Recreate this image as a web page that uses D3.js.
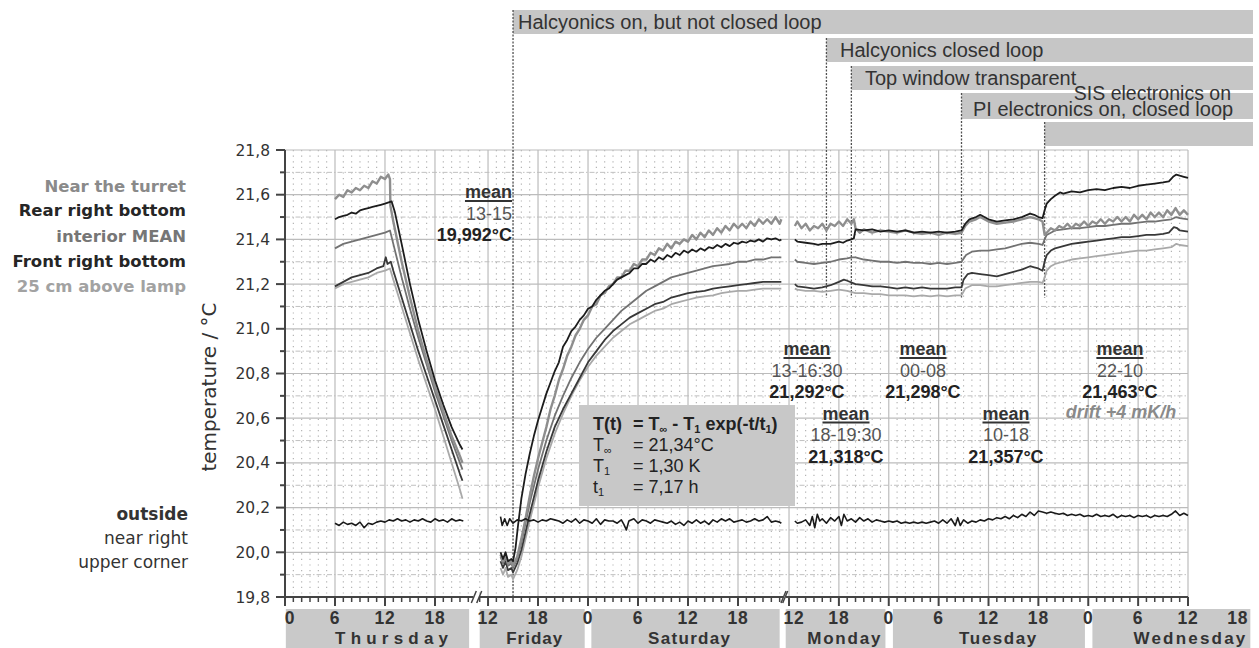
<!DOCTYPE html>
<html><head><meta charset="utf-8">
<script src="https://cdn.jsdelivr.net/npm/d3@7"></script>
<style>body{margin:0;background:#fff}svg{display:block}</style>
</head><body>
<svg id="c" width="1259" height="648"></svg>
<script>
// ---------------- DATA ----------------
// hours counted from Thursday 00:00 (Fri=24, Sat=48, Mon=96, Tue=120, Wed=144)
const seriesNames = ["25 cm above lamp","Front right bottom","interior MEAN","Near the turret","Rear right bottom"];
const yTickValues = [19.8,20.0,20.2,20.4,20.6,20.8,21.0,21.2,21.4,21.6,21.8];
const yTickLabels = ["19,8","20,0","20,2","20,4","20,6","20,8","21,0","21,2","21,4","21,6","21,8"];
const xTickHours = [0,6,12,18,36,42,48,54,60,66,108,114,120,126,132,138,144,150,156,162];
const xTickLabels = ["0","6","12","18","12","18","0","6","12","18","12","18","0","6","12","18","0","6","12","18"];
const dayNames = ["Thursday","Friday","Saturday","Monday","Tuesday","Wednesday"];
const eventHours = [39, 112.5, 115.5, 128.75, 138.75];
const eventLabels = ["Halcyonics on, but not closed loop","Halcyonics closed loop","Top window transparent","PI electronics on, closed loop",""];
const extraEventLabel = "SIS electronics on";
const meanRanges = ["13-15","13-16:30","00-08","18-19:30","10-18","22-10"];
const meanValues = ["19,992°C","21,292°C","21,298°C","21,318°C","21,357°C","21,463°C"];
const fitParams = ["21,34°C","1,30 K","7,17 h"];

const lamp = [
 [[6,21.18],[7,21.20],[8,21.21],[9,21.22],[10,21.23],[11,21.25],[12,21.26],[12.6,21.27],[13,21.22],[14,21.10],[15,20.98],[16,20.86],[17,20.75],[18,20.64],[19,20.52],[20,20.40],[21,20.28],[21.3,20.24]],
 [[37.5,19.93],[37.8,19.90],[38.1,19.93],[38.4,19.89],[38.8,19.90],[39,19.88],[39.5,19.92],[40,19.98],[40.5,20.06],[41,20.14],[42,20.29],[43,20.42],[44,20.53],[45,20.62],[46,20.70],[47,20.77],[48,20.83],[49,20.88],[50,20.92],[51,20.96],[52,20.99],[53,21.02],[54,21.04],[55,21.06],[56,21.08],[57,21.09],[58,21.11],[59,21.12],[60,21.13],[61,21.14],[62,21.145],[63,21.15],[64,21.16],[65,21.165],[66,21.17],[67,21.17],[68,21.175],[69,21.18],[70,21.18],[71.2,21.18]],
 [[108.7,21.18],[109,21.175],[110,21.17],[111,21.17],[112,21.165],[113,21.17],[114,21.175],[115,21.17],[116,21.16],[117,21.16],[118,21.155],[119,21.155],[120,21.15],[121,21.15],[122,21.15],[123,21.145],[124,21.15],[125,21.145],[126,21.15],[127,21.145],[128,21.15],[128.75,21.15],[129.2,21.18],[130,21.195],[131,21.195],[132,21.19],[133,21.19],[134,21.195],[135,21.20],[136,21.205],[137,21.21],[138,21.21],[138.5,21.205],[138.75,21.23],[139,21.26],[139.5,21.28],[140,21.29],[141,21.30],[142,21.31],[143,21.315],[144,21.32],[145,21.325],[146,21.33],[147,21.335],[148,21.34],[149,21.345],[150,21.35],[151,21.35],[152,21.355],[153,21.36],[154,21.365],[154.6,21.38],[155,21.375],[156,21.37]]
];
const front = [
 [[6,21.19],[7,21.21],[8,21.23],[9,21.24],[10,21.25],[11,21.27],[11.8,21.28],[12.1,21.32],[12.3,21.29],[12.7,21.30],[13,21.26],[14,21.14],[15,21.02],[16,20.90],[17,20.79],[18,20.68],[19,20.57],[20,20.46],[21,20.35],[21.3,20.32]],
 [[37.5,19.96],[37.8,19.93],[38.1,19.96],[38.4,19.92],[38.8,19.93],[39,19.91],[39.5,19.95],[40,20.01],[40.5,20.09],[41,20.17],[42,20.32],[43,20.45],[44,20.56],[45,20.64],[46,20.71],[47,20.78],[48,20.85],[49,20.90],[50,20.95],[51,20.99],[52,21.02],[53,21.05],[54,21.07],[55,21.09],[56,21.11],[57,21.12],[58,21.14],[59,21.15],[60,21.16],[61,21.165],[62,21.17],[63,21.18],[64,21.185],[65,21.19],[66,21.195],[67,21.20],[68,21.205],[69,21.21],[70,21.21],[71.2,21.21]],
 [[108.7,21.20],[109,21.19],[110,21.185],[111,21.18],[112,21.185],[113,21.195],[114,21.21],[114.6,21.22],[115,21.215],[116,21.20],[117,21.195],[118,21.19],[119,21.19],[120,21.185],[121,21.18],[122,21.185],[123,21.18],[124,21.185],[125,21.18],[126,21.18],[127,21.18],[128,21.185],[128.75,21.185],[129,21.22],[129.5,21.245],[130,21.25],[131,21.245],[132,21.24],[133,21.235],[134,21.245],[135,21.255],[136,21.265],[137,21.28],[137.5,21.275],[138,21.27],[138.5,21.26],[138.75,21.30],[139,21.33],[139.5,21.35],[140,21.36],[141,21.37],[142,21.38],[143,21.385],[144,21.39],[145,21.395],[146,21.40],[147,21.405],[148,21.41],[149,21.41],[150,21.415],[151,21.42],[152,21.42],[153,21.425],[153.7,21.43],[154.3,21.455],[154.7,21.45],[155,21.44],[156,21.435]]
];
const meanSeries = [
 [[6,21.36],[7,21.38],[8,21.39],[9,21.40],[10,21.41],[11,21.42],[12,21.43],[12.6,21.44],[13,21.38],[14,21.23],[15,21.09],[16,20.96],[17,20.84],[18,20.72],[19,20.61],[20,20.50],[21,20.40],[21.3,20.37]],
 [[37.5,19.98],[37.8,19.95],[38.1,19.98],[38.4,19.94],[38.8,19.95],[39,19.93],[39.5,19.97],[40,20.04],[40.5,20.13],[41,20.22],[42,20.37],[43,20.50],[44,20.61],[45,20.70],[46,20.78],[47,20.85],[48,20.91],[49,20.96],[50,21.00],[51,21.04],[52,21.08],[53,21.11],[54,21.14],[55,21.17],[56,21.19],[57,21.21],[58,21.23],[59,21.24],[60,21.25],[61,21.26],[62,21.27],[63,21.28],[64,21.285],[65,21.29],[66,21.30],[67,21.30],[68,21.31],[69,21.31],[70,21.32],[71.2,21.32]],
 [[108.7,21.31],[109,21.30],[110,21.295],[111,21.29],[112,21.295],[113,21.30],[114,21.31],[115,21.315],[115.5,21.32],[116,21.32],[117,21.31],[118,21.305],[119,21.30],[120,21.30],[121,21.295],[122,21.30],[123,21.295],[124,21.295],[125,21.29],[126,21.295],[127,21.29],[128,21.295],[128.75,21.30],[129.3,21.33],[130,21.345],[131,21.35],[132,21.35],[133,21.355],[134,21.36],[135,21.37],[136,21.38],[137,21.385],[138,21.38],[138.5,21.375],[138.75,21.40],[139,21.42],[139.5,21.43],[140,21.44],[141,21.445],[142,21.45],[143,21.45],[144,21.455],[145,21.46],[146,21.46],[147,21.465],[148,21.47],[149,21.47],[150,21.475],[151,21.48],[152,21.48],[153,21.485],[154,21.49],[154.6,21.50],[155,21.495],[156,21.49]]
];
const turret = [
 [[6,21.58],[6.5,21.60],[7,21.59],[7.5,21.62],[8,21.61],[8.5,21.63],[9,21.62],[9.5,21.64],[10,21.63],[10.5,21.66],[11,21.65],[11.5,21.68],[12,21.67],[12.4,21.69],[12.6,21.67],[12.65,21.55],[13,21.48],[14,21.30],[15,21.14],[16,20.99],[17,20.86],[18,20.74],[19,20.63],[20,20.52],[21,20.43],[21.3,20.40]],
 [[37.5,19.99],[37.8,19.96],[38.1,19.99],[38.4,19.95],[38.8,19.96],[39,19.94],[39.5,19.98],[40,20.06],[40.5,20.15],[41,20.25],[41.5,20.34],[42,20.42],[42.5,20.49],[43,20.56],[43.5,20.64],[44,20.70],[44.5,20.77],[45,20.82],[45.5,20.88],[46,20.92],[46.5,20.97],[47,21.00],[47.5,21.04],[48,21.06],[48.5,21.10],[49,21.11],[49.5,21.15],[50,21.16],[50.5,21.19],[51,21.20],[51.5,21.23],[52,21.23],[52.5,21.26],[53,21.26],[53.5,21.29],[54,21.28],[54.5,21.31],[55,21.31],[55.5,21.34],[56,21.33],[56.5,21.36],[57,21.35],[57.5,21.38],[58,21.36],[58.5,21.39],[59,21.38],[59.5,21.40],[60,21.39],[60.5,21.42],[61,21.40],[61.5,21.43],[62,21.41],[62.5,21.44],[63,21.42],[63.5,21.45],[64,21.43],[64.5,21.46],[65,21.44],[65.5,21.47],[66,21.45],[66.5,21.47],[67,21.45],[67.5,21.48],[68,21.46],[68.5,21.49],[69,21.47],[69.5,21.49],[70,21.47],[70.5,21.50],[71,21.47],[71.2,21.49]],
 [[108.7,21.46],[109,21.48],[109.5,21.45],[110,21.47],[110.5,21.44],[111,21.46],[111.5,21.45],[112,21.47],[112.5,21.44],[113,21.47],[113.5,21.46],[114,21.48],[114.5,21.46],[115,21.49],[115.5,21.47],[115.8,21.49],[116,21.45],[116.5,21.43],[117,21.445],[118,21.43],[119,21.44],[120,21.435],[121,21.43],[122,21.44],[123,21.43],[124,21.425],[125,21.43],[126,21.42],[127,21.43],[128,21.425],[128.75,21.43],[129.2,21.46],[129.7,21.48],[130.5,21.49],[131,21.50],[131.5,21.49],[132,21.48],[133,21.47],[134,21.475],[135,21.48],[136,21.49],[137,21.50],[137.5,21.495],[138,21.49],[138.5,21.48],[138.75,21.42],[139,21.43],[139.5,21.45],[140,21.44],[140.5,21.46],[141,21.45],[141.5,21.47],[142,21.45],[142.5,21.47],[143,21.46],[143.5,21.48],[144,21.46],[144.5,21.48],[145,21.47],[145.5,21.49],[146,21.47],[146.5,21.49],[147,21.48],[147.5,21.50],[148,21.48],[148.5,21.50],[149,21.48],[149.5,21.51],[150,21.49],[150.5,21.51],[151,21.49],[151.5,21.52],[152,21.50],[152.5,21.52],[153,21.50],[153.5,21.53],[154,21.51],[154.5,21.54],[155,21.51],[155.5,21.53],[156,21.51]]
];
const rear = [
 [[6,21.49],[6.5,21.50],[7,21.505],[7.5,21.51],[8,21.52],[8.5,21.515],[9,21.53],[9.5,21.535],[10,21.54],[10.5,21.545],[11,21.55],[11.5,21.555],[12,21.56],[12.8,21.57],[13.2,21.52],[14,21.38],[15,21.20],[16,21.04],[17,20.90],[18,20.77],[19,20.66],[20,20.56],[21,20.48],[21.3,20.46]],
 [[37.5,20.00],[37.8,19.97],[38.1,20.00],[38.4,19.96],[38.8,19.97],[39,19.96],[39.3,20.02],[39.6,20.12],[40,20.24],[40.5,20.35],[41,20.44],[41.5,20.52],[42,20.59],[42.5,20.65],[43,20.71],[43.5,20.76],[44,20.81],[44.5,20.85],[45,20.92],[45.5,20.95],[46,20.99],[46.5,21.01],[47,21.04],[47.5,21.06],[48,21.09],[48.5,21.10],[49,21.13],[49.5,21.15],[50,21.17],[50.5,21.18],[51,21.20],[51.5,21.22],[52,21.23],[52.5,21.24],[53,21.25],[53.5,21.27],[54,21.27],[54.5,21.29],[55,21.29],[55.5,21.31],[56,21.30],[56.5,21.32],[57,21.31],[57.5,21.33],[58,21.32],[58.5,21.34],[59,21.33],[59.5,21.35],[60,21.34],[60.5,21.355],[61,21.345],[61.5,21.36],[62,21.35],[62.5,21.365],[63,21.36],[63.5,21.375],[64,21.365],[64.5,21.38],[65,21.37],[65.5,21.385],[66,21.38],[66.5,21.39],[67,21.385],[67.5,21.395],[68,21.39],[68.5,21.40],[69,21.39],[69.5,21.405],[70,21.40],[70.5,21.405],[71,21.395],[71.2,21.40]],
 [[108.7,21.40],[109,21.39],[110,21.385],[111,21.38],[111.5,21.375],[112,21.38],[113,21.38],[114,21.39],[114.5,21.385],[115,21.395],[115.5,21.40],[115.8,21.405],[116,21.445],[117,21.44],[118,21.445],[119,21.435],[120,21.44],[121,21.435],[122,21.44],[123,21.43],[124,21.435],[125,21.43],[126,21.435],[127,21.43],[128,21.435],[128.75,21.44],[129.2,21.47],[129.7,21.49],[130.5,21.50],[131,21.51],[131.5,21.50],[132,21.49],[133,21.48],[134,21.485],[135,21.49],[136,21.50],[137,21.515],[137.5,21.51],[138,21.50],[138.5,21.495],[138.75,21.53],[139,21.56],[139.5,21.58],[140,21.595],[140.6,21.61],[141,21.605],[142,21.615],[143,21.61],[144,21.62],[145,21.625],[146,21.62],[147,21.63],[148,21.635],[149,21.63],[150,21.64],[151,21.645],[152,21.65],[153,21.655],[153.7,21.66],[154.2,21.68],[154.6,21.69],[155,21.685],[155.5,21.68],[156,21.675]]
];
const outside = [
 [[6,20.13],[6.5,20.12],[7,20.135],[7.5,20.125],[8,20.13],[8.5,20.12],[9,20.135],[9.5,20.11],[10,20.13],[10.5,20.125],[11,20.135],[11.5,20.14],[12,20.135],[12.5,20.145],[13,20.14],[13.5,20.15],[14,20.14],[14.5,20.145],[15,20.135],[15.5,20.145],[16,20.14],[16.5,20.15],[17,20.14],[17.5,20.135],[18,20.15],[18.5,20.14],[19,20.145],[19.5,20.135],[20,20.15],[20.5,20.14],[21,20.145],[21.4,20.14]],
 [[37.5,20.16],[37.7,20.12],[38,20.15],[38.3,20.12],[38.6,20.15],[39,20.13],[39.5,20.145],[40,20.14],[40.5,20.15],[41,20.14],[41.5,20.145],[42,20.135],[42.5,20.145],[43,20.14],[43.5,20.15],[44,20.145],[44.5,20.14],[45,20.13],[45.5,20.145],[46,20.135],[46.5,20.15],[47,20.13],[47.5,20.145],[48,20.14],[48.5,20.13],[49,20.15],[49.5,20.125],[50,20.145],[50.5,20.14],[51,20.14],[51.5,20.13],[52,20.145],[52.3,20.125],[52.6,20.10],[52.9,20.14],[53.5,20.15],[54,20.13],[54.5,20.145],[55,20.14],[55.5,20.13],[56,20.145],[56.5,20.14],[57,20.135],[57.5,20.13],[58,20.14],[58.5,20.125],[59,20.135],[59.5,20.12],[60,20.14],[60.5,20.13],[61,20.145],[61.5,20.13],[62,20.14],[62.5,20.125],[63,20.145],[63.5,20.135],[64,20.15],[64.5,20.14],[65,20.15],[65.5,20.135],[66,20.14],[66.5,20.145],[67,20.135],[67.5,20.14],[68,20.15],[68.5,20.14],[69,20.145],[69.5,20.16],[70,20.135],[70.5,20.14],[71,20.135],[71.2,20.13]],
 [[108.7,20.14],[109,20.13],[109.5,20.135],[110,20.145],[110.5,20.12],[110.8,20.16],[111.1,20.11],[111.4,20.17],[111.7,20.14],[112,20.15],[112.5,20.13],[113,20.155],[113.5,20.14],[114,20.16],[114.3,20.12],[114.6,20.17],[115,20.14],[115.5,20.15],[116,20.135],[116.5,20.155],[117,20.14],[117.5,20.15],[118,20.135],[118.5,20.145],[119,20.14],[119.5,20.135],[120,20.14],[120.5,20.135],[121,20.14],[121.5,20.13],[122,20.135],[122.5,20.13],[123,20.135],[123.5,20.13],[124,20.135],[124.5,20.13],[125,20.135],[125.5,20.14],[126,20.13],[126.5,20.145],[127,20.13],[127.5,20.15],[128,20.12],[128.3,20.155],[128.6,20.12],[129,20.145],[129.5,20.13],[130,20.14],[130.5,20.135],[131,20.145],[131.5,20.14],[132,20.15],[132.5,20.145],[133,20.155],[133.5,20.15],[134,20.16],[134.5,20.15],[135,20.165],[135.5,20.155],[136,20.17],[136.5,20.16],[137,20.18],[137.5,20.165],[138,20.185],[138.5,20.18],[139,20.175],[139.5,20.18],[140,20.175],[140.5,20.17],[141,20.175],[141.5,20.165],[142,20.17],[142.5,20.165],[143,20.17],[143.5,20.16],[144,20.165],[144.5,20.16],[145,20.17],[145.5,20.16],[146,20.165],[146.5,20.16],[147,20.17],[147.5,20.155],[148,20.165],[148.5,20.16],[149,20.165],[149.5,20.155],[150,20.165],[150.5,20.16],[151,20.165],[151.5,20.155],[152,20.165],[152.5,20.16],[153,20.165],[153.5,20.16],[154,20.17],[154.5,20.185],[155,20.165],[155.5,20.175],[156,20.165]]
];

// ---------------- LAYOUT ----------------
const W = 1259, H = 648;
const segments = [[0,22.6],[35,71.4],[107.6,156]];
const x = d3.scaleLinear().domain([0,22.6,35,71.4,107.6,156]).range([285,473.3,479.7,783,785.7,1188]);
const y = d3.scaleLinear().domain([19.8,21.8]).range([597,150]);
const X0 = 285, X1 = 1188, Y0 = 597, Y1 = 150;
const svg = d3.select("#c");
const SANS = "'Liberation Sans', Arial, sans-serif";
const DJ = "'DejaVu Sans', sans-serif";

svg.append("rect").attr("width",W).attr("height",H).attr("fill","#fff");

// grid
const grid = svg.append("g");
const hoursIn = seg => d3.range(Math.ceil(seg[0]), Math.floor(seg[1])+1);
segments.forEach(seg => {
  hoursIn(seg).forEach(h => {
    if (h % 6 !== 0) {
      grid.append("line").attr("x1",x(h)).attr("x2",x(h)).attr("y1",Y1).attr("y2",Y0)
        .attr("stroke","#adadad").attr("stroke-width",1.1).attr("stroke-dasharray","1.2,4.4");
    }
  });
});
d3.range(19.9, 21.8, 0.2).forEach(v => {
  grid.append("line").attr("x1",X0).attr("x2",X1).attr("y1",y(v)).attr("y2",y(v))
    .attr("stroke","#c0c0c0").attr("stroke-width",1).attr("stroke-dasharray","5,2,1.5,2");
});
yTickValues.slice(1).forEach(v => {
  grid.append("line").attr("x1",X0).attr("x2",X1).attr("y1",y(v)).attr("y2",y(v))
    .attr("stroke","#bcbcbc").attr("stroke-width",1.2);
});
segments.forEach(seg => {
  hoursIn(seg).filter(h => h % 6 === 0 && h > 0).forEach(h => {
    grid.append("line").attr("x1",x(h)).attr("x2",x(h)).attr("y1",Y1).attr("y2",Y0)
      .attr("stroke","#bcbcbc").attr("stroke-width",1.2);
  });
});

// top event boxes
const boxTops = [10, 38, 66, 93, 122], boxH = 24, boxRight = 1253;
const ev = svg.append("g");
eventHours.forEach((h,i) => {
  ev.append("rect").attr("x",x(h)).attr("y",boxTops[i]).attr("width",boxRight - x(h)).attr("height",boxH + (i===3?2:0))
    .attr("fill","#c6c6c6");
});
eventHours.forEach((h,i) => {
  const yEnd = i === 0 ? Y0 : y(21.14);
  ev.append("line").attr("x1",x(h)).attr("x2",x(h)).attr("y1",boxTops[i]).attr("y2",yEnd)
    .attr("stroke","#505050").attr("stroke-width",1.3).attr("stroke-dasharray","2,1.5");
});
const evTextX = [518, 840, 865, 973];
const evTextY = [29, 57, 85, 116];
eventLabels.forEach((t,i) => {
  if (!t) return;
  ev.append("text").attr("x",evTextX[i]).attr("y",evTextY[i]).text(t)
    .attr("font-family",SANS).attr("font-size",20).attr("fill","#333");
});
ev.append("text").attr("x",1231).attr("y",100).attr("text-anchor","end").text(extraEventLabel)
  .attr("font-family",SANS).attr("font-size",19.5).attr("fill","#333");

// fit box
const fit = svg.append("g");
fit.append("rect").attr("x",579).attr("y",405).attr("width",216).attr("height",101).attr("fill","#c8c8c8");
function fitLine(yb, bold, parts) {
  const t = fit.append("text").attr("y",yb).attr("font-family",SANS).attr("font-size",18)
    .attr("fill","#222").attr("font-weight",bold?"bold":"normal");
  parts.forEach(p => {
    const s = t.append("tspan").text(p.t);
    if (p.x !== undefined) s.attr("x",p.x);
    if (p.sub) s.attr("font-size",11).attr("dy",3);
    if (p.up) s.attr("dy",-3);
  });
}
fitLine(430, true, [{t:"T(t)",x:593},{t:"= T",x:633},{t:"∞",sub:true},{t:" - T",up:true},{t:"1",sub:true},{t:" exp(-t/t",up:true},{t:"1",sub:true},{t:")",up:true}]);
fitLine(451, false, [{t:"T",x:593},{t:"∞",sub:true},{t:"= "+fitParams[0],x:633,up:true}]);
fitLine(472, false, [{t:"T",x:593},{t:"1",sub:true},{t:"= "+fitParams[1],x:633,up:true}]);
fitLine(493, false, [{t:"t",x:593},{t:"1",sub:true},{t:"= "+fitParams[2],x:633,up:true}]);

// mean annotations
const meanPos = [{x:512,y:198,a:"end"},{x:807,y:355,a:"middle"},{x:923,y:355,a:"middle"},{x:846,y:419.5,a:"middle"},{x:1006,y:419.5,a:"middle"},{x:1120,y:355,a:"middle"}];
const ann = svg.append("g");
meanRanges.forEach((r,i) => {
  const p = meanPos[i];
  const m = ann.append("text").attr("x",p.x).attr("y",p.y).attr("text-anchor",p.a).text("mean")
    .attr("font-family",SANS).attr("font-size",18).attr("font-weight","bold").attr("fill","#333");
  const bb = m.node().getBBox();
  ann.append("line").attr("x1",bb.x).attr("x2",bb.x+bb.width).attr("y1",p.y+3).attr("y2",p.y+3)
    .attr("stroke","#333").attr("stroke-width",1.8);
  ann.append("text").attr("x",p.x).attr("y",p.y+21.5).attr("text-anchor",p.a).text(r)
    .attr("font-family",SANS).attr("font-size",18).attr("fill","#555");
  ann.append("text").attr("x",p.x).attr("y",p.y+43).attr("text-anchor",p.a).text(meanValues[i])
    .attr("font-family",SANS).attr("font-size",18).attr("font-weight","bold").attr("fill","#222");
});
ann.append("text").attr("x",1121).attr("y",418).attr("text-anchor","middle").text("drift +4 mK/h")
  .attr("font-family",SANS).attr("font-size",18).attr("font-style","italic").attr("font-weight","bold").attr("fill","#8a8a8a");

// series lines
const line = d3.line().x(d => x(d[0])).y(d => y(d[1]));
const seriesStyle = [
  {data: lamp, color:"#a9a9a9", w:1.8},
  {data: front, color:"#383838", w:1.8},
  {data: meanSeries, color:"#727272", w:1.8},
  {data: turret, color:"#8e8e8e", w:2.4},
  {data: rear, color:"#1c1c1c", w:1.8},
  {data: outside, color:"#1a1a1a", w:1.6}
];
const lines = svg.append("g").attr("fill","none").attr("stroke-linejoin","round");
seriesStyle.forEach(s => {
  s.data.forEach(seg => {
    lines.append("path").attr("d",line(seg)).attr("stroke",s.color).attr("stroke-width",s.w);
  });
});

// axes
const ax = svg.append("g").attr("stroke","#444");
ax.append("line").attr("x1",X0).attr("x2",X0).attr("y1",Y1).attr("y2",Y0+1).attr("stroke-width",2);
yTickValues.forEach(v => {
  ax.append("line").attr("x1",X0-9).attr("x2",X0).attr("y1",y(v)).attr("y2",y(v)).attr("stroke-width",2);
});
d3.range(19.9,21.8,0.2).forEach(v => {
  ax.append("line").attr("x1",X0-5).attr("x2",X0).attr("y1",y(v)).attr("y2",y(v)).attr("stroke-width",2);
});
segments.forEach((seg,i) => {
  const xs = i===0 ? X0 : x(seg[0]);
  ax.append("line").attr("x1",xs).attr("x2",x(seg[1])).attr("y1",Y0).attr("y2",Y0).attr("stroke-width",2);
  hoursIn(seg).forEach(h => {
    const major = h % 6 === 0;
    ax.append("line").attr("x1",x(h)).attr("x2",x(h)).attr("y1",Y0).attr("y2",Y0 + (major?9:5))
      .attr("stroke-width",major?2:1.5);
  });
});
[[22.6,35],[71.4,107.6]].forEach(b => {
  const a = x(b[0]), c = x(b[1]);
  ax.append("line").attr("x1",a-2).attr("x2",a+3).attr("y1",Y0+6).attr("y2",Y0-6).attr("stroke-width",1.5);
  ax.append("line").attr("x1",c-3).attr("x2",c+2).attr("y1",Y0+6).attr("y2",Y0-6).attr("stroke-width",1.5);
});

// y tick labels + title
const yl = svg.append("g");
yTickValues.forEach((v,i) => {
  yl.append("text").attr("x",270).attr("y",y(v)+5.5).attr("text-anchor","end").text(yTickLabels[i])
    .attr("font-family",DJ).attr("font-size",15.5).attr("fill","#333");
});
yl.append("text").attr("transform","translate(216,387) rotate(-90)").attr("text-anchor","middle")
  .text("temperature / °C").attr("font-family",DJ).attr("font-size",20).attr("fill","#333");

// bottom day bands
const dayBands = [[0.1,22.1],[35,47.6],[48.4,71.0],[107.6,119.6],[120.5,143.6],[144.5,163.5]];
const dayLabelHours = [13.1, 41.6, 60.2, 114.7, 133.2, 156.3];
const dayLabelSpacing = [5.2, 1.0, 1.3, 1.8, 1.6, 2.2];
const band = svg.append("g");
dayBands.forEach(b => {
  band.append("rect").attr("x",x(b[0])).attr("y",609).attr("width",x(b[1])-x(b[0])).attr("height",H-609)
    .attr("fill","#c9c9c9");
});
xTickHours.forEach((h,i) => {
  band.append("text").attr("x",x(h) + (i===0?5:(i===10?5:0))).attr("y",624).attr("text-anchor","middle").text(xTickLabels[i])
    .attr("font-family",SANS).attr("font-size",17.5).attr("font-weight","bold").attr("fill","#333")
    .attr("letter-spacing",0.8);
});
dayNames.forEach((d,i) => {
  band.append("text").attr("x",x(dayLabelHours[i])).attr("y",644).attr("text-anchor","middle").text(d)
    .attr("font-family",SANS).attr("font-size",17).attr("font-weight","bold").attr("fill","#333")
    .attr("letter-spacing", dayLabelSpacing[i]);
});

// legend labels
const legendLabels = ["Near the turret","Rear right bottom","interior MEAN","Front right bottom","25 cm above lamp"];
const legendColors = ["#8a8a8a","#262626","#767676","#262626","#a2a2a2"];
const legendY = [192, 216, 242, 267, 292];
const lg = svg.append("g");
legendLabels.forEach((t,i) => {
  lg.append("text").attr("x",186).attr("y",legendY[i]).attr("text-anchor","end").text(t)
    .attr("font-family",DJ).attr("font-size",16.5).attr("font-weight","bold").attr("fill",legendColors[i]);
});
const outsideLabels = ["outside","near right","upper corner"];
const outsideY = [520, 544, 568];
outsideLabels.forEach((t,i) => {
  lg.append("text").attr("x",188).attr("y",outsideY[i]).attr("text-anchor","end").text(t)
    .attr("font-family",DJ).attr("font-size",17).attr("font-weight",i===0?"bold":"normal").attr("fill","#333");
});
</script>
</body></html>
